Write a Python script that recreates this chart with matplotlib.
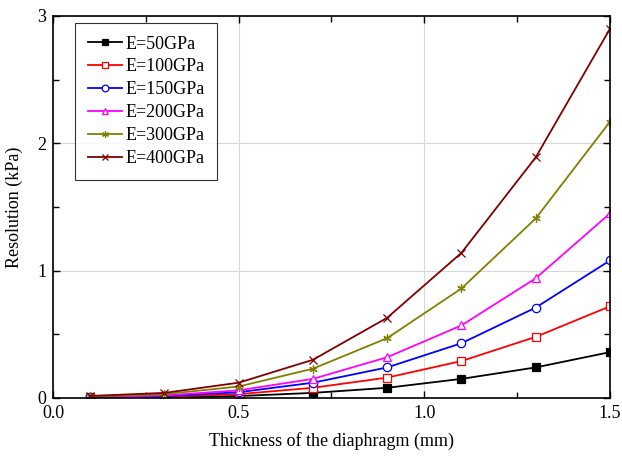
import matplotlib
matplotlib.use("Agg")
import matplotlib.pyplot as plt
from matplotlib.ticker import MultipleLocator, FormatStrFormatter

plt.rcParams['font.family'] = ['Liberation Serif', 'DejaVu Serif']

thickness = [0.1, 0.3, 0.5, 0.7, 0.9, 1.1, 1.3, 1.5]
labels = ["E=50GPa", "E=100GPa", "E=150GPa", "E=200GPa", "E=300GPa", "E=400GPa"]
res_50 = [0.002, 0.005, 0.015, 0.04, 0.08, 0.15, 0.24, 0.36]
res_100 = [0.004, 0.01, 0.03, 0.08, 0.16, 0.29, 0.48, 0.72]
res_150 = [0.006, 0.015, 0.045, 0.12, 0.24, 0.43, 0.71, 1.08]
res_200 = [0.008, 0.02, 0.06, 0.15, 0.32, 0.57, 0.94, 1.45]
res_300 = [0.012, 0.03, 0.09, 0.23, 0.47, 0.86, 1.41, 2.17]
res_400 = [0.016, 0.04, 0.12, 0.30, 0.63, 1.14, 1.89, 2.90]
series = [res_50, res_100, res_150, res_200, res_300, res_400]

colors = ['black', '#ff0000', '#0000ff', '#ff00ff', '#808000', '#800000']
markers = ['s', 's', 'o', '^', (6, 2, 0), 'x']
filled = [True, False, False, False, True, True]

fig = plt.figure(figsize=(6.22, 4.61), dpi=100)
ax = fig.add_axes([0.0852, 0.1367, 0.8955, 0.8286])

for vals, lab, c, m, f in zip(series, labels, colors, markers, filled):
    ax.plot(thickness, vals, color=c, lw=1.3, marker=m, ms=6,
            markerfacecolor=(c if f else 'white'), markeredgecolor=c,
            markeredgewidth=0.9, label=lab)

ax.set_xlim(0, 1.5)
ax.set_ylim(0, 3)
ax.xaxis.set_major_locator(MultipleLocator(0.5))
ax.xaxis.set_minor_locator(MultipleLocator(0.25))
ax.yaxis.set_major_locator(MultipleLocator(1))
ax.yaxis.set_minor_locator(MultipleLocator(0.5))
ax.xaxis.set_major_formatter(FormatStrFormatter('%.1f'))
ax.yaxis.set_major_formatter(FormatStrFormatter('%d'))
ax.grid(True, which='major', color='#d8d8d8', lw=0.8)
ax.set_axisbelow(True)
ax.tick_params(which='both', direction='in', top=True, right=True, labelsize=13)
ax.tick_params(which='major', length=5, width=1, pad=5)
ax.tick_params(which='minor', length=4, width=1)
for s in ax.spines.values():
    s.set_linewidth(1.2)

ax.set_xlabel('Thickness of the diaphragm (mm)', fontsize=13, labelpad=7)
ax.set_ylabel('Resolution (kPa)', fontsize=13, labelpad=10)

leg = ax.legend(loc='upper left', bbox_to_anchor=(0.0395, 0.982), fontsize=13,
                frameon=True, fancybox=False, edgecolor='black', borderaxespad=0,
                handlelength=1.9, labelspacing=0.33, borderpad=0.7, handletextpad=0.2,
                markerscale=0.8)
leg.get_frame().set_linewidth(0.8)

fig.savefig('out.png', dpi=100)
